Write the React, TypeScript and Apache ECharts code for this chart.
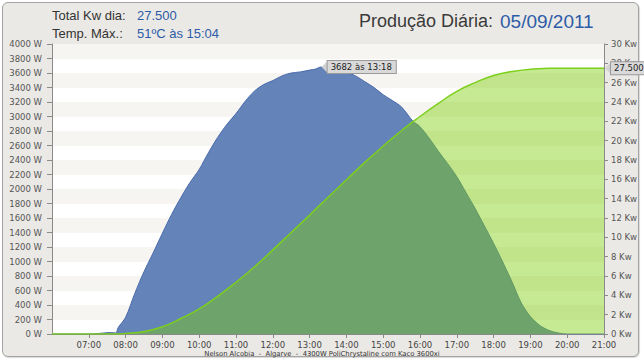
import React, { useEffect, useRef } from "react";
import * as echarts from "echarts";

// Instantaneous power (W)
const powerTimes = [
  "06:00", "07:00", "07:20", "07:35", "07:44", "07:48", "08:00", "08:15", "08:30", "08:45",
  "09:00", "09:15", "09:30", "09:45", "10:00", "10:15", "10:30", "10:45", "11:00", "11:15",
  "11:30", "11:45", "12:00", "12:15", "12:30", "12:45", "13:00", "13:10", "13:18", "13:30",
  "13:45", "14:00", "14:15", "14:30", "14:45", "15:00", "15:15", "15:30", "15:48", "16:00",
  "16:15", "16:30", "16:45", "17:00", "17:15", "17:30", "17:45", "18:00", "18:15", "18:30",
  "18:45", "19:00", "19:15", "19:30", "19:45", "20:00", "21:00",
];
const powerValues = [
  0, 0, 10, 20, 15, 90, 230, 560, 860, 1120,
  1390, 1650, 1880, 2090, 2270, 2500, 2710, 2890, 3040, 3210,
  3350, 3440, 3495, 3560, 3600, 3615, 3640, 3655, 3682, 3650,
  3630, 3610, 3560, 3480, 3400, 3300, 3220, 3130, 2940, 2860,
  2700, 2520, 2350, 2170, 1950, 1730, 1490, 1250, 990, 720,
  430, 240, 120, 50, 15, 0, 0,
];

// Accumulated energy (Kw)
const energyTimes = [
  "06:00", "07:45", "08:00", "08:30", "09:00", "09:30", "10:00", "10:30", "11:00", "11:30",
  "12:00", "12:30", "13:00", "13:30", "14:00", "14:30", "15:00", "15:30", "16:00", "16:30",
  "17:00", "17:30", "18:00", "18:30", "19:00", "19:30", "20:00", "21:00",
];
const energyValues = [
  0, 0, 0.05, 0.25, 0.75, 1.6, 2.6, 3.9, 5.35, 6.95,
  8.7, 10.5, 12.3, 14.15, 15.95, 17.75, 19.45, 21.05, 22.5, 23.85,
  25.1, 26.0, 26.75, 27.15, 27.4, 27.48, 27.5, 27.5,
];

const peakTime = "13:18";
const peakValue = 3682;
const totalLabel = "27.500";

const headerLabels = ["Total Kw dia:", "Temp. Máx.:"];
const headerValues = ["27.500", "51ºC às 15:04"];
const titleText = "Produção Diária:";
const titleDate = "05/09/2011";
const footerText = "Nelson Alcobia  -  Algarve  -  4300W PoliChrystaline com Kaco 3600xi";

const toHours = (s: string) => {
  const [h, m] = s.split(":").map(Number);
  return h + m / 60;
};

const arrowPath = "path://M0,5 L6,0 L6,10 Z";

export default function App() {
  const ref = useRef<HTMLDivElement>(null);

  useEffect(() => {
    if (!ref.current) return;
    const chart = echarts.init(ref.current, undefined, { renderer: "svg" });
    const axisFont = "DejaVu Sans";
    const labelBox = {
      show: true,
      position: "right" as const,
      distance: 0,
      backgroundColor: "#d9d9d9",
      borderColor: "#9a9a9a",
      borderWidth: 1,
      padding: [2, 4, 1, 3],
      color: "#222",
      fontSize: 8.5,
      fontFamily: axisFont,
    };
    const text = (t: string, x: number, y: number, fill: string, font: string, align = "left") => ({
      type: "text",
      x,
      y,
      style: { text: t, fill, font, textAlign: align, textVerticalAlign: "middle" },
    });
    chart.setOption({
      animation: false,
      backgroundColor: "transparent",
      grid: { left: 52, right: 40, top: 44, bottom: 26, containLabel: false },
      xAxis: {
        type: "value",
        min: 6,
        max: 21,
        interval: 1,
        axisLine: { show: true, lineStyle: { color: "#8a8a8a" } },
        axisTick: { show: true, length: 4, lineStyle: { color: "#8a8a8a" } },
        splitLine: { show: false },
        axisLabel: {
          showMinLabel: false,
          margin: 6,
          color: "#444",
          fontSize: 8.5,
          fontFamily: axisFont,
          formatter: (v: number) => (v < 10 ? "0" : "") + v + ":00",
        },
      },
      yAxis: [
        {
          type: "value",
          min: 0,
          max: 4000,
          interval: 200,
          axisLine: { show: true, lineStyle: { color: "#8a8a8a" } },
          axisTick: { show: true, length: 5, lineStyle: { color: "#8a8a8a" } },
          splitLine: { show: false },
          splitArea: { show: true, areaStyle: { color: ["#ffffff", "#f7f5f1"] } },
          axisLabel: {
            margin: 10,
            color: "#555",
            fontSize: 8.5,
            fontFamily: axisFont,
            formatter: (v: number) => `${v} W`,
          },
        },
        {
          type: "value",
          position: "right",
          min: 0,
          max: 30,
          interval: 2,
          axisLine: { show: true, lineStyle: { color: "#8a8a8a" } },
          axisTick: { show: true, length: 4, lineStyle: { color: "#8a8a8a" } },
          splitLine: { show: false },
          axisLabel: {
            margin: 7,
            color: "#555",
            fontSize: 8.5,
            fontFamily: axisFont,
            formatter: (v: number) => `${v} Kw`,
          },
        },
      ],
      series: [
        {
          type: "line",
          yAxisIndex: 0,
          showSymbol: false,
          smooth: 0.3,
          data: powerTimes.map((t, i) => [toHours(t), powerValues[i]]),
          lineStyle: { color: "#4a6bab", width: 1 },
          areaStyle: { color: "#6383b9", opacity: 1 },
          z: 2,
          markPoint: {
            symbol: arrowPath,
            symbolSize: [6, 12],
            symbolOffset: [4, 0],
            itemStyle: { color: "#d2d2d2" },
            label: { ...labelBox, formatter: `${peakValue} às ${peakTime}` },
            data: [{ coord: [toHours(peakTime), peakValue] }],
          },
        },
        {
          type: "line",
          yAxisIndex: 1,
          showSymbol: false,
          smooth: true,
          data: energyTimes.map((t, i) => [toHours(t), energyValues[i]]),
          lineStyle: { color: "#7ccf1c", width: 1.5 },
          areaStyle: { color: "rgb(125,207,10)", opacity: 0.44 },
          z: 3,
          markPoint: {
            symbol: arrowPath,
            symbolSize: [6, 12],
            symbolOffset: [4, 0],
            itemStyle: { color: "#d2d2d2" },
            label: { ...labelBox, formatter: totalLabel },
            data: [{ coord: [21, energyValues[energyValues.length - 1]] }],
          },
        },
      ],
      graphic: [
        text(headerLabels[0], 52, 15, "#333", '13px "Liberation Sans"'),
        text(headerValues[0], 137, 15, "#2d5ca8", '13px "Liberation Sans"'),
        text(headerLabels[1], 52, 33, "#333", '13px "Liberation Sans"'),
        text(headerValues[1], 137, 33, "#2d5ca8", '13px "Liberation Sans"'),
        text(titleText, 359, 21, "#3a3a3a", '18px "Liberation Sans"'),
        text(titleDate, 500, 21, "#2d5ca8", '19px "Liberation Sans"'),
        text(footerText, 322, 354, "#333", '6.8px "DejaVu Sans"', "center"),
      ],
    });
    return () => chart.dispose();
  }, []);

  return (
    <div style={{ position: "fixed", left: 0, top: 0, width: 644, height: 360, background: "#ffffff" }}>
      <div
        style={{
          position: "absolute",
          left: 2,
          top: 2,
          width: 635,
          height: 353,
          background: "#ebe9e5",
          border: "1px solid #a3a3a3",
          borderRadius: 6,
          boxShadow: "1px 1px 1px rgba(0,0,0,0.15)",
        }}
      />
      <div ref={ref} style={{ position: "absolute", left: 0, top: 0, width: 644, height: 360 }} />
    </div>
  );
}
